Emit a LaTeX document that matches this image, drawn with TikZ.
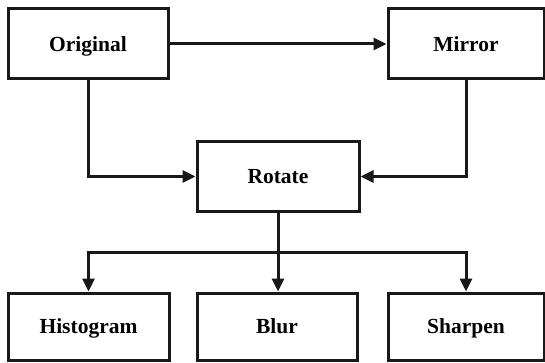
\documentclass[tikz,border=0pt]{standalone}
\usepackage{fontspec}
\setmainfont{Liberation Serif}
\usetikzlibrary{arrows.meta}
\begin{document}
\begin{tikzpicture}[x=1pt,y=-1pt,
  box/.style={draw=black!90,line width=3pt,fill=white,inner sep=0pt,
    text height=14.2pt,text depth=0pt,
    font=\fontsize{21.5}{25}\selectfont\bfseries,text=black},
  conn/.style={draw=black!90,line width=3pt,-{Triangle[length=13pt,width=12pt]}}]
\useasboundingbox (0,0) rectangle (545,363);
\node[box,minimum width=160pt,minimum height=70pt] (orig) at (88,44) {Original};
\node[box,minimum width=156pt,minimum height=70pt] (mirror) at (466,44) {Mirror};
\node[box,minimum width=162pt,minimum height=69pt] (rot) at (278,176.5) {Rotate};
\node[box,minimum width=161pt,minimum height=67pt] (hist) at (88.5,326.5) {Histogram};
\node[box,minimum width=160pt,minimum height=67pt] (blur) at (277,326.5) {Blur};
\node[box,minimum width=156pt,minimum height=67pt] (sharp) at (466,326.5) {Sharpen};
\coordinate (split) at (rot.south |- 0,252);
\draw[conn] (orig) -- (mirror);
\draw[conn] (orig.south) |- (rot.west);
\draw[conn] (mirror.south) |- (rot.east);
\draw[draw=black!90,line width=3pt] (rot.south) -- (split);
\draw[conn] (split) -| (hist.north);
\draw[conn] (split) -| (sharp.north);
\draw[conn] (split) -- (blur.north -| split);
\end{tikzpicture}
\end{document}
